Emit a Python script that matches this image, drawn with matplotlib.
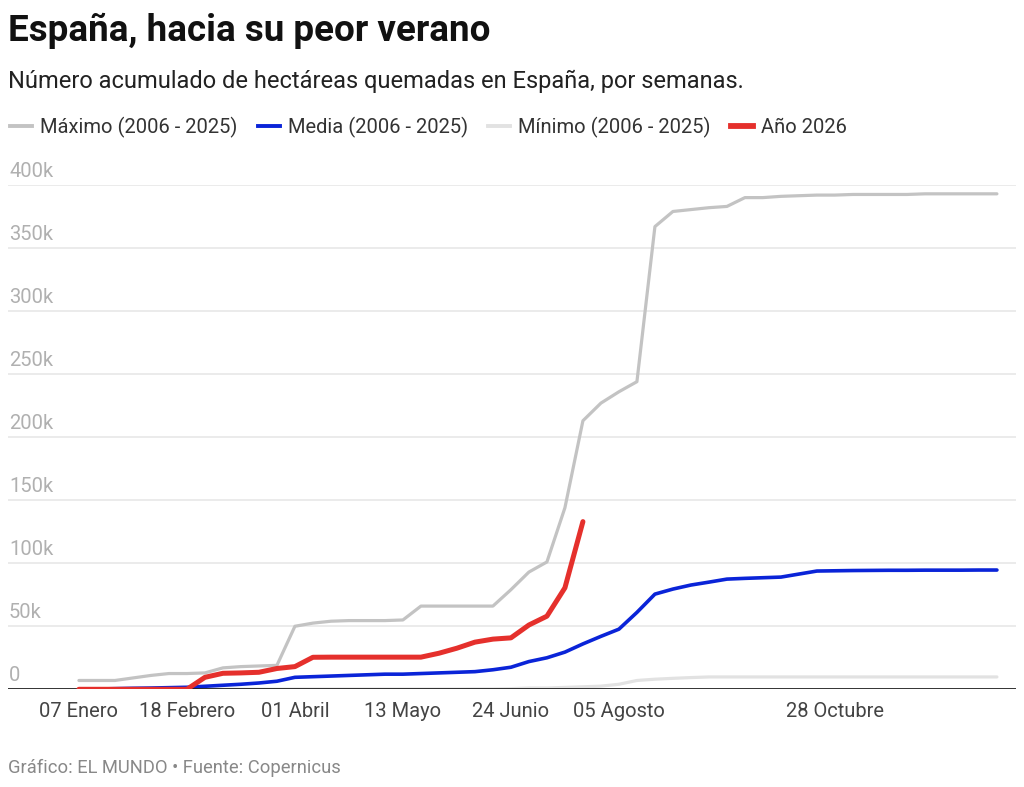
import matplotlib
matplotlib.use("Agg")
import matplotlib.pyplot as plt
import matplotlib.transforms as mtransforms
from matplotlib.lines import Line2D

plt.rcParams['font.family'] = ['Roboto', 'DejaVu Sans']

# Weekly index (0 = 07 Enero)
weeks = list(range(52))

maximo = [7000, 7000, 7000, 9000, 11000, 12500, 12500, 13000, 17000, 18000,
          18500, 19000, 50000, 52500, 54000, 54500, 54500, 54500, 55000, 66000,
          66000, 66000, 66000, 66000, 79000, 93000, 101000, 144000, 213000, 227000,
          236000, 244000, 367000, 379000, 380500, 382000, 383000, 390000, 390000, 391000,
          391500, 392000, 392000, 392500, 392500, 392500, 392500, 393000, 393000, 393000,
          393000, 393000]

media = [0, 200, 500, 800, 1000, 1300, 1600, 2400, 3200, 4000,
         5000, 6400, 9500, 10000, 10500, 11000, 11500, 12000, 12000, 12500,
         13000, 13500, 14000, 15500, 17500, 22000, 25000, 29500, 36000, 42000,
         47700, 61000, 75500, 79500, 82700, 85000, 87400, 88000, 88500, 89000,
         91400, 93800, 94000, 94200, 94300, 94400, 94400, 94500, 94500, 94500,
         94600, 94600]

minimo = [0, 0, 0, 0, 0, 0, 100, 100, 100, 100,
          100, 100, 200, 200, 200, 200, 200, 200, 200, 200,
          200, 200, 300, 300, 500, 1000, 1000, 1500, 2000, 2500,
          4000, 7000, 8000, 8700, 9300, 9800, 9800, 9800, 9800, 9800,
          9800, 9800, 9800, 9800, 9800, 9800, 9800, 9800, 9800, 9800,
          9800, 9800]

anio_2026 = [0, 0, 0, 0, 0, 0, 0, 9500, 12700, 13000,
             13500, 16500, 18000, 25400, 25500, 25500, 25500, 25500, 25500, 25500,
             28600, 32600, 37400, 39800, 40800, 51000, 58000, 80500, 133000]

xtick_pos = [0, 6, 12, 18, 24, 30, 42]
xtick_labels = ['07 Enero', '18 Febrero', '01 Abril', '13 Mayo', '24 Junio', '05 Agosto', '28 Octubre']
ytick_vals = [0, 50000, 100000, 150000, 200000, 250000, 300000, 350000, 400000]
ytick_labels = ['0', '50k', '100k', '150k', '200k', '250k', '300k', '350k', '400k']

series_names = ['Máximo (2006 - 2025)', 'Media (2006 - 2025)', 'Mínimo (2006 - 2025)', 'Año 2026']
c_max, c_med, c_min, c_red = '#c3c3c3', '#0a24d8', '#e2e2e2', '#e5302c'

W, H = 1024, 787
fig = plt.figure(figsize=(W / 100, H / 100), dpi=100)
ax = fig.add_axes([8 / W, (H - 689.3) / H, (1016 - 8) / W, (689.3 - 185) / H])

ax.set_xlim(-3.94, 52.06)
ax.set_ylim(0, 400000)

for v in ytick_vals[1:]:
    ax.axhline(v, color='#e6e6e6', lw=1.1, zorder=0)

ax.plot(weeks, minimo, color=c_min, lw=2.3, solid_capstyle='round', zorder=2)
ax.plot(weeks, maximo, color=c_max, lw=2.3, solid_capstyle='round', zorder=3)
ax.plot(weeks, media, color=c_med, lw=2.6, solid_capstyle='round', zorder=4)
ax.plot(weeks[:len(anio_2026)], anio_2026, color=c_red, lw=3.6, solid_capstyle='round', zorder=5)
ax.axhline(0, color='#111111', lw=1.2, zorder=4.5)

for s in ax.spines.values():
    s.set_visible(False)
ax.set_yticks([])
ax.set_xticks(xtick_pos)
ax.set_xticklabels(xtick_labels, fontsize=14.5, color='#444444')
ax.tick_params(axis='x', length=0, pad=9)

trans = mtransforms.blended_transform_factory(ax.transAxes, ax.transData)
offset = mtransforms.offset_copy(trans, fig=fig, x=1, y=8, units='dots')
for v, lab in zip(ytick_vals, ytick_labels):
    ax.text(0, v, lab, transform=offset, ha='left', va='baseline', fontsize=14.5, color='#b0b0b0')

fig.text(8 / W, 1 - 31 / H, 'España, hacia su peor verano', fontsize=26.5, fontweight='bold',
         color='#111111', ha='left', va='center')
fig.text(8 / W, 1 - 81 / H, 'Número acumulado de hectáreas quemadas en España, por semanas.',
         fontsize=17, color='#222222', ha='left', va='center')
fig.text(8 / W, 1 - 768 / H, 'Gráfico: EL MUNDO • Fuente: Copernicus',
         fontsize=13.2, color='#888888', ha='left', va='center')

handles = [Line2D([], [], color=c_max, lw=2.8),
           Line2D([], [], color=c_med, lw=2.8),
           Line2D([], [], color=c_min, lw=2.8),
           Line2D([], [], color=c_red, lw=4.2)]
leg = fig.legend(handles, series_names, loc='center left', bbox_to_anchor=(10 / W, 1 - 127 / H),
                 ncol=4, frameon=False, fontsize=14.5, handlelength=1.1, handletextpad=0.4,
                 columnspacing=1.0, borderaxespad=0, borderpad=0)
for t in leg.get_texts():
    t.set_color('#333333')

fig.savefig('out.png', dpi=100)
